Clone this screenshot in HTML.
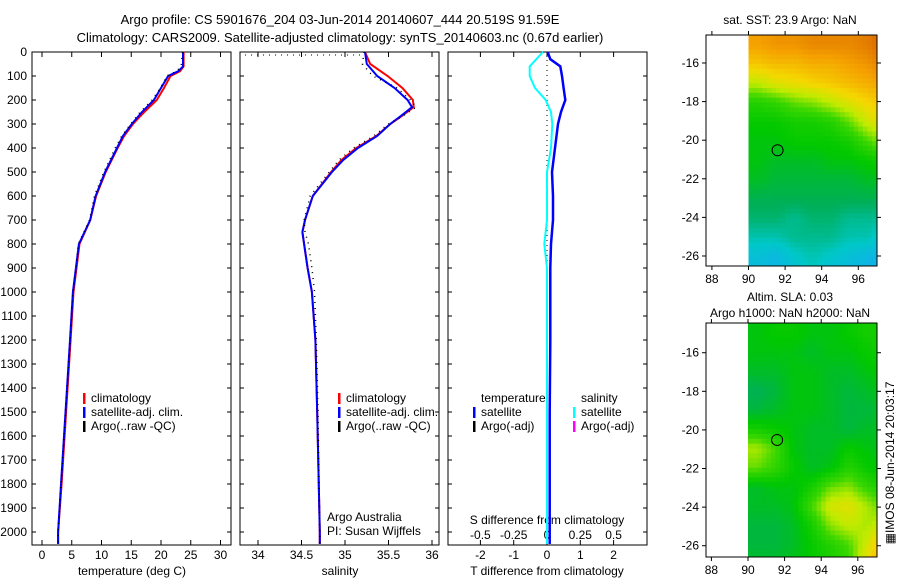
<!DOCTYPE html>
<html><head><meta charset="utf-8"><style>
body{margin:0;background:#fff}
svg{display:block;font-family:"Liberation Sans",sans-serif}
text{font-size:12px;fill:#000}
</style></head><body>
<svg id="chart" width="900" height="580" viewBox="0 0 900 580">
<text x="340" y="24" text-anchor="middle" style="font-size:13px">Argo profile: CS 5901676_204 03-Jun-2014 20140607_444 20.519S 91.59E</text>
<text x="340" y="42" text-anchor="middle" style="font-size:13px">Climatology: CARS2009. Satellite-adjusted climatology: synTS_20140603.nc (0.67d earlier)</text>
<g id="g"></g>
</svg>
<script>
// ---- profile data ----
const tDepth=[0,60,80,100,150,200,250,300,350,400,500,600,700,800,900,1000,1200,1400,1600,1800,2000,2050];
const tSat=[23.7,23.7,22.9,21.2,20.0,18.8,16.8,15.1,13.6,12.6,10.6,9.0,8.1,6.2,5.7,5.2,4.7,4.2,3.7,3.2,2.7,2.7];
const tClim=[23.8,23.8,23.2,21.6,20.5,19.3,17.2,15.3,13.8,12.7,10.7,9.1,8.1,6.3,5.8,5.3,4.8,4.3,3.8,3.3,2.7,2.7];
const tArgo=[23.6,23.4,22.6,21.0,19.9,18.5,16.5,14.9,13.4,12.3,10.4,8.8,8.0,6.1,5.7,5.2,4.7,4.2,3.7,3.2,2.7,2.7];
const sDepth=[0,50,100,150,200,230,270,300,350,400,450,500,600,700,750,800,900,1000,1200,1500,2000,2050];
const sSat=[35.23,35.25,35.37,35.57,35.72,35.77,35.63,35.52,35.37,35.15,34.98,34.85,34.63,34.54,34.51,34.53,34.57,34.62,34.66,34.68,34.71,34.71];
const sClim=[35.23,35.29,35.49,35.66,35.78,35.79,35.64,35.52,35.36,35.13,34.96,34.84,34.63,34.54,34.51,34.53,34.57,34.62,34.66,34.68,34.71,34.71];
const sArgo=[35.22,35.2,35.32,35.6,35.75,35.82,35.65,35.5,35.33,35.1,34.93,34.82,34.6,34.53,34.54,34.58,34.62,34.65,34.67,34.69,34.71,34.71];
const dDepth=[0,30,60,100,150,200,250,300,400,500,600,700,800,900,1000,1200,1500,2000,2050];
const dT=[0.02,0.1,0.4,0.45,0.5,0.55,0.42,0.33,0.24,0.15,0.18,0.18,0.12,0.1,0.1,0.1,0.08,0.08,0.08];
const dS=[-0.03,-0.08,-0.13,-0.13,-0.09,-0.01,0.03,0.04,0.03,0.0,0.0,0.0,-0.02,0.0,0.0,0.0,0.0,0.0,0.0];
const depthTicks=[0,100,200,300,400,500,600,700,800,900,1000,1100,1200,1300,1400,1500,1600,1700,1800,1900,2000];
const tTicks=[0,5,10,15,20,25,30];
const sTicks=[34,34.5,35,35.5,36];
const dTTicks=[-2,-1,0,1,2];
const dSTickLabels=["-0.5","-0.25","0","0.25","0.5"];
// ---- map data ----
const mapLon=[90,91,92,93,94,95,96,97];
const sst=[
[25.5,25.6,25.6,25.7,25.7,25.7,25.8,26.0],
[25.2,25.3,25.3,25.4,25.4,25.5,25.6,25.8],
[24.7,24.9,25.0,25.1,25.2,25.3,25.4,25.5],
[24.1,24.2,24.4,24.5,24.7,24.9,25.1,25.2],
[23.9,23.9,24.0,24.0,24.1,24.4,24.8,25.0],
[23.8,23.8,23.9,23.9,23.9,24.0,24.3,24.6],
[23.8,23.7,23.7,23.7,23.8,23.8,23.9,24.0],
[23.7,23.6,23.6,23.6,23.6,23.6,23.7,23.7],
[23.5,23.5,23.5,23.5,23.5,23.5,23.5,23.5],
[23.4,23.4,23.3,23.4,23.4,23.3,23.3,23.3],
[23.2,23.2,23.3,23.3,23.3,23.2,23.2,23.0],
[23.0,22.9,23.1,23.2,23.1,23.0,22.9,22.8],
[22.9,22.9,23.0,23.1,23.0,22.9,22.8,22.7]];
const sla=[
[.04,.05,.05,.04,.04,.05,.06,.06],
[.04,.04,.04,.03,.04,.04,.05,.06],
[.03,.03,.04,.04,.03,.03,.04,.05],
[.01,.02,.04,.04,.03,.02,.03,.04],
[.02,.03,.04,.04,.03,.02,.02,.03],
[.06,.05,.04,.03,.03,.02,.03,.03],
[.12,.09,.04,.03,.03,.05,.04,.03],
[.10,.08,.05,.03,.04,.07,.05,.04],
[.03,.04,.04,.06,.10,.11,.08,.06],
[.03,.03,.04,.09,.14,.15,.12,.09],
[.02,.02,.03,.06,.11,.13,.12,.14],
[.02,.02,.03,.05,.07,.09,.14,.20],
[.03,.03,.04,.05,.06,.08,.16,.23]];
const lonTicks=[88,90,92,94,96];
const latTicks=[-16,-18,-20,-22,-24,-26];

const NS="http://www.w3.org/2000/svg",G=document.getElementById('g');
function mk(t,a,p){const e=document.createElementNS(NS,t);for(const k in a)e.setAttribute(k,a[k]);(p||G).appendChild(e);return e;}
const Y=d=>52+d*0.24;
const PT=v=>42+5.95*v, PS=v=>258+87*(v-34), PD=v=>547+33.3*v, PDS=v=>547+133.2*v;
function frame(x0,x1,name){const r=mk('rect',{x:x0,y:52,width:x1-x0,height:493,fill:'none',stroke:'#000','stroke-width':1});}
function stepLine(depths,vals,fx,color,w,name,dash){
  let d='';depths.forEach((z,i)=>{d+=(i?'L':'M')+fx(vals[i]).toFixed(1)+','+Y(z).toFixed(1);});
  const a={d:d,fill:'none',stroke:color,'stroke-width':w};if(dash)a['stroke-dasharray']=dash;
  const p=mk('path',a);}
frame(32,231,'temperature-panel');frame(240,439,'salinity-panel');frame(448,647,'difference-panel');
depthTicks.forEach(z=>{
  const t=mk('text',{x:27,y:Y(z)+4,'text-anchor':'end'});t.textContent=z;
  [[32,36],[227,231],[240,244],[435,439],[448,452],[643,647]].forEach(s=>mk('line',{x1:s[0],x2:s[1],y1:Y(z),y2:Y(z),stroke:'#000'}));
});
function xticks(ticks,fx,labels,ly){ticks.forEach((v,i)=>{const x=fx(v);
  mk('line',{x1:x,x2:x,y1:52,y2:57,stroke:'#000'});mk('line',{x1:x,x2:x,y1:540,y2:545,stroke:'#000'});
  if(labels){const t=mk('text',{x:x,y:ly,'text-anchor':'middle'});t.textContent=labels[i];}});}
xticks(tTicks,PT,tTicks,559);xticks(sTicks,PS,sTicks,559);xticks(dTTicks,PD,dTTicks,559);
dSTickLabels.forEach((l,i)=>{const t=mk('text',{x:PD(dTTicks[i]),y:539,'text-anchor':'middle'});t.textContent=l;});
function lbl(x,y,s,name,anchor){const t=mk('text',{x:x,y:y,'text-anchor':anchor||'middle'});t.textContent=s;return t;}
lbl(132,575,'temperature (deg C)','x-axis-title-temperature');lbl(340,575,'salinity','x-axis-title-salinity');
lbl(547,575,'T difference from climatology','x-axis-title-t-diff');lbl(547,524,'S difference from climatology','x-axis-title-s-diff');
stepLine(tDepth,tClim,PT,'#f00',2,'temperature-climatology-line');
stepLine(tDepth,tSat,PT,'#00f',2,'temperature-satellite-line');
stepLine(tDepth,tArgo,PT,'#000',1.5,'temperature-argo-dots','1 5');
stepLine(sDepth,sClim,PS,'#f00',2,'salinity-climatology-line');
stepLine(sDepth,sSat,PS,'#00f',2,'salinity-satellite-line');
stepLine(sDepth,sArgo,PS,'#000',1.5,'salinity-argo-dots','1 5');
const sd=mk('line',{x1:245,x2:365,y1:55,y2:55,stroke:'#000','stroke-dasharray':'1 5'});
const zl=mk('line',{x1:547,x2:547,y1:55,y2:310,stroke:'#000','stroke-dasharray':'1 4'});
stepLine(dDepth,dS,PDS,'#0ff',2,'salinity-diff-satellite-line');
stepLine(dDepth,dT,PD,'#00f',2.5,'temperature-diff-satellite-line');
function leg(x,y,c,s,name){const r=mk('rect',{x:x,y:y-9,width:2.5,height:11,fill:c});lbl(x+8,y,s,name,'start');}
[[83],[338]].forEach(p=>{leg(p[0],402,'#f00','climatology','legend-climatology');leg(p[0],416,'#00f','satellite-adj. clim.','legend-satellite-adj');leg(p[0],430,'#000','Argo(..raw -QC)','legend-argo');});
lbl(481,402,'temperature','legend-temperature-header','start');leg(473,416,'#00f','satellite','legend-t-satellite');leg(473,430,'#000','Argo(-adj)','legend-t-argo');
lbl(581,402,'salinity','legend-salinity-header','start');leg(573,416,'#0ff','satellite','legend-s-satellite');leg(573,430,'#f0f','Argo(-adj)','legend-s-argo');
lbl(327,521,'Argo Australia','credit-line-1','start');lbl(327,535,'PI: Susan Wijffels','credit-line-2','start');
const stops=[[0,[20,170,245]],[0.13,[0,200,200]],[0.23,[0,175,90]],[0.35,[0,200,0]],[0.48,[60,215,0]],[0.6,[190,235,0]],[0.72,[245,215,0]],[0.85,[245,160,0]],[1,[215,100,0]]];
function cmap(t){t=Math.max(0,Math.min(1,t));for(let i=1;i<stops.length;i++){if(t<=stops[i][0]){const a=stops[i-1],b=stops[i],f=(t-a[0])/(b[0]-a[0]);return 'rgb('+a[1].map((c,k)=>Math.round(c+(b[1][k]-c)*f)).join(',')+')';}}return 'rgb(215,100,0)';}
function drawMap(o){
  const {x0,x1,y0,y1,lon0px,latTop,pxLon,pxLat,data,norm,name}=o;
  const grp=mk('g',{});
  const cp='clip'+name;const c=mk('clipPath',{id:cp},grp);mk('rect',{x:lon0px,y:y0,width:x1-lon0px,height:y1-y0},c);
  const cells=mk('g',{'clip-path':'url(#'+cp+')'},grp);
  const sub=4,R=data.length,C=mapLon.length;
  const val=(r,cc)=>{r=Math.max(0,Math.min(R-1,r));cc=Math.max(0,Math.min(C-1,cc));const r0=Math.floor(r),c0=Math.floor(cc),r1=Math.min(R-1,r0+1),c1=Math.min(C-1,c0+1),fr=r-r0,fc=cc-c0;
    return data[r0][c0]*(1-fr)*(1-fc)+data[r0][c1]*(1-fr)*fc+data[r1][c0]*fr*(1-fc)+data[r1][c1]*fr*fc;};
  for(let r=0;r<R*sub;r++)for(let cc=0;cc<C*sub;cc++){
    const v=val((r+0.5)/sub-0.5,(cc+0.5)/sub-0.5);
    const x=lon0px+(mapLon[0]-90+cc/sub)*pxLon,y=y0+r/sub*pxLat;
    const e=mk('rect',{x:x.toFixed(2),y:y.toFixed(2),width:(pxLon/sub+0.6).toFixed(2),height:(pxLat/sub+0.6).toFixed(2),fill:cmap(norm(v))},cells);
    
    
  }
  mk('rect',{x:x0,y:y0,width:x1-x0,height:y1-y0,fill:'none',stroke:'#000'},grp);
  lonTicks.forEach(l=>{const x=lon0px+(l-90)*pxLon;mk('line',{x1:x,x2:x,y1:y0-4,y2:y0,stroke:'#000'},grp);mk('line',{x1:x,x2:x,y1:y1,y2:y1+4,stroke:'#000'},grp);
    const t=mk('text',{x:x,y:y1+17,'text-anchor':'middle'},grp);t.textContent=l;});
  latTicks.forEach(l=>{const y=y0+(latTop-l)*pxLat;mk('line',{x1:x0-4,x2:x0,y1:y,y2:y,stroke:'#000'},grp);mk('line',{x1:x1,x2:x1+4,y1:y,y2:y,stroke:'#000'},grp);
    const t=mk('text',{x:x0-7,y:y+4,'text-anchor':'end'},grp);t.textContent=l;});
  const ci=mk('circle',{cx:lon0px+(91.59-90)*pxLon,cy:y0+(latTop+20.519)*pxLat,r:5.5,fill:'none',stroke:'#000'},grp);
  
}
drawMap({x0:706,x1:877,y0:35,y1:266,lon0px:748.5,latTop:-14.55,pxLon:18.3,pxLat:19.3,data:sst,norm:v=>(v-22.7)/3.3,name:'sst-map'});
drawMap({x0:706,x1:877,y0:323,y1:557,lon0px:748,latTop:-14.46,pxLon:18.3,pxLat:19.3,data:sla,norm:v=>(v+0.066)/0.32,name:'sla-map'});
lbl(790,24,'sat. SST: 23.9 Argo: NaN','sst-map-title');
lbl(790,301,'Altim. SLA: 0.03','sla-map-title-1');lbl(790,317,'Argo h1000: NaN h2000: NaN','sla-map-title-2');
const im=lbl(0,0,'▦IMOS 08-Jun-2014 20:03:17','imos-timestamp');im.setAttribute('transform','translate(894,463) rotate(-90)');
</script>
</body></html>
